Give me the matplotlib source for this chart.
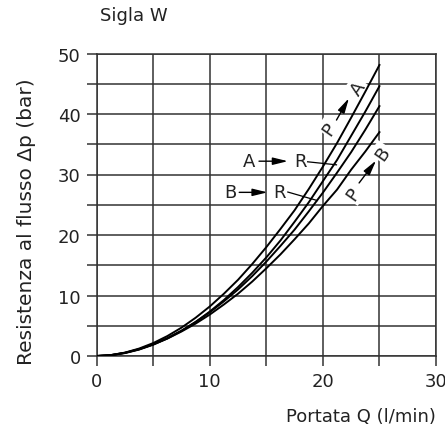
import matplotlib
matplotlib.use('Agg')
from matplotlib import pyplot as plt

plt.rcParams['font.family'] = ['DejaVu Sans']

# Flow (l/min) and pressure drop (bar)
portata = [0, 1.25, 2.5, 3.75, 5, 6.25, 7.5, 8.75, 10, 11.25, 12.5, 13.75,
           15, 16.25, 17.5, 18.75, 20, 21.25, 22.5, 23.75, 25]
p_to_a = [0, 0.15, 0.56, 1.23, 2.14, 3.30, 4.69, 6.33, 8.19, 10.3, 12.6, 15.2,
          18.0, 21.0, 24.1, 27.6, 31.3, 35.2, 39.4, 43.7, 48.1]
a_to_r = [0, 0.12, 0.48, 1.06, 1.87, 2.91, 4.16, 5.64, 7.34, 9.26, 11.4, 13.75,
          16.3, 19.1, 22.2, 25.4, 28.9, 32.4, 36.4, 40.4, 44.6]
b_to_r = [0, 0.14, 0.52, 1.12, 1.94, 2.96, 4.19, 5.61, 7.23, 9.04, 11.0, 13.2,
          15.6, 18.2, 20.9, 23.9, 27.0, 30.3, 33.7, 37.4, 41.3]
p_to_b = [0, 0.15, 0.53, 1.12, 1.91, 2.88, 4.05, 5.36, 6.85, 8.52, 10.3, 12.3,
          14.5, 16.8, 19.3, 21.9, 24.8, 27.5, 30.8, 33.8, 37.0]

x_ticks = [0, 5, 10, 15, 20, 25, 30]
x_labels = ['0', '', '10', '', '20', '', '30']
y_ticks = [0, 5, 10, 15, 20, 25, 30, 35, 40, 45, 50]
y_labels = ['0', '', '10', '', '20', '', '30', '', '40', '', '50']

grid_col = '#333333'
txt_col = '#222222'
fs = 13

fig = plt.figure(figsize=(4.45, 4.27), dpi=100)
ax = fig.add_axes([96.7 / 445, 70 / 427, (436 - 96.7) / 445, (357.5 - 55) / 427])

for yv in p_to_a, a_to_r, b_to_r, p_to_b:
    ax.plot(portata, yv, color='black', lw=1.4, zorder=4)

ax.set_xlim(0, 30)
ax.set_ylim(0, 50)
ax.set_xticks(x_ticks)
ax.set_xticklabels(x_labels)
ax.set_yticks(y_ticks)
ax.set_yticklabels(y_labels)
ax.grid(True, color=grid_col, lw=1.1, zorder=1)
ax.set_axisbelow(True)
for s in ax.spines.values():
    s.set_color(grid_col)
    s.set_linewidth(1.1)
ax.tick_params(length=7.5, width=1.1, color=grid_col, labelsize=fs,
               labelcolor=txt_col, pad=4)

box = dict(facecolor='white', edgecolor='none', pad=1.5)
arrow = dict(arrowstyle='-|>,head_length=0.9,head_width=0.22', color='black',
             lw=1.0, shrinkA=0, shrinkB=0)

# horizontal labels A->R and B->R with leaders
ax.text(13.5, 32.2, 'A', fontsize=fs, color=txt_col, ha='center', va='center', bbox=box, zorder=3)
ax.annotate('', xy=(16.9, 32.2), xytext=(14.35, 32.2), arrowprops=arrow, zorder=3)
ax.text(18.0, 32.2, 'R', fontsize=fs, color=txt_col, ha='center', va='center', bbox=box, zorder=3)
ax.plot([18.65, 21.2], [32.1, 31.6], color='black', lw=0.9, zorder=3)

ax.text(11.8, 27.05, 'B', fontsize=fs, color=txt_col, ha='center', va='center', bbox=box, zorder=3)
ax.annotate('', xy=(15.1, 27.05), xytext=(12.6, 27.05), arrowprops=arrow, zorder=3)
ax.text(16.2, 27.05, 'R', fontsize=fs, color=txt_col, ha='center', va='center', bbox=box, zorder=3)
ax.plot([16.9, 19.5], [27.1, 25.7], color='black', lw=0.9, zorder=3)

# rotated labels P->A and P->B
ax.text(20.6, 37.6, 'P', fontsize=fs, color=txt_col, ha='center', va='center', rotation=55, bbox=box, zorder=3)
ax.annotate('', xy=(22.3, 42.6), xytext=(21.2, 39.0), arrowprops=arrow, zorder=3)
ax.text(23.1, 44.3, 'A', fontsize=fs, color=txt_col, ha='center', va='center', rotation=55, bbox=box, zorder=3)

ax.text(22.65, 26.9, 'P', fontsize=fs, color=txt_col, ha='center', va='center', rotation=55, bbox=box, zorder=3)
ax.annotate('', xy=(24.7, 32.3), xytext=(23.2, 28.6), arrowprops=arrow, zorder=3)
ax.text(25.3, 33.5, 'B', fontsize=fs, color=txt_col, ha='center', va='center', rotation=55, bbox=box, zorder=3)

fig.text(100 / 445, 1 - 16 / 427, 'Sigla W', fontsize=fs, color=txt_col, ha='left', va='center')
fig.text(27 / 445, 1 - 222 / 427, 'Resistenza al flusso \u0394p (bar)', fontsize=14.5,
         color=txt_col, rotation=90, ha='center', va='center')
fig.text(436 / 445, 1 - 417 / 427, 'Portata Q (l/min)', fontsize=fs, color=txt_col,
         ha='right', va='center')

fig.savefig('out.png', dpi=100)
